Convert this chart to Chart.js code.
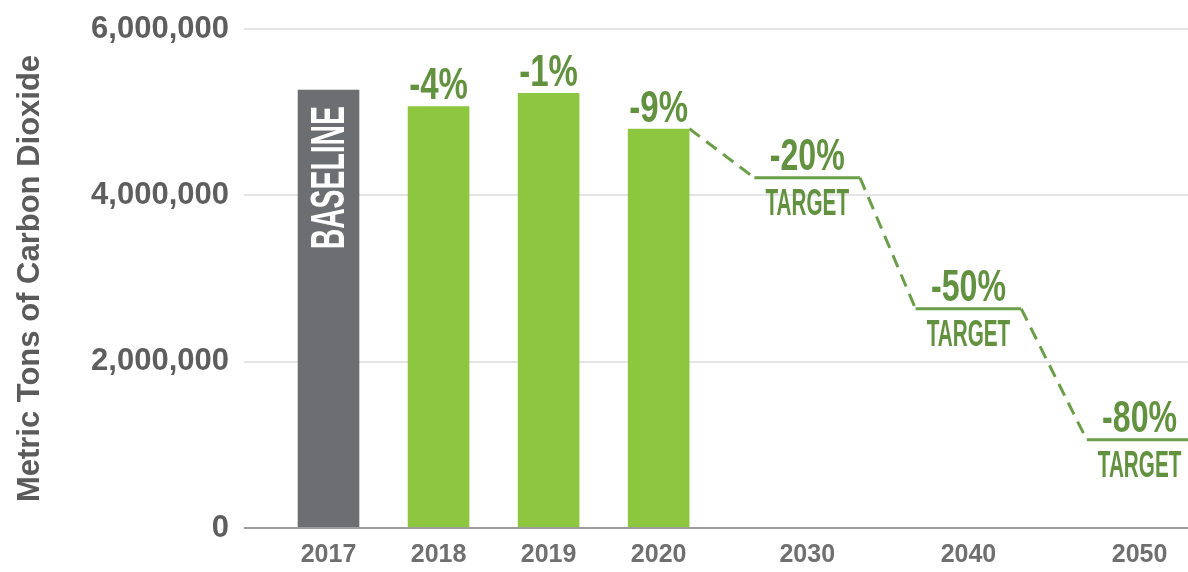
<!DOCTYPE html>
<html>
<head>
<meta charset="utf-8">
<script src="https://cdn.jsdelivr.net/npm/chart.js@4.4.1/dist/chart.umd.min.js"></script>
<style>
  html, body { margin: 0; padding: 0; background: #fff; }
  #wrap { width: 1188px; height: 572px; }
</style>
</head>
<body>
<div id="wrap"><canvas id="chart"></canvas></div>
<script>
// ---------- DATA ----------
const years = ['2017', '2018', '2019', '2020', '2030', '2040', '2050'];
const actualTons = [5270000, 5070000, 5230000, 4800000];
const targetTons = [4210000, 2635000, 1060000];
const actualNotes = ['BASELINE', '-4%', '-1%', '-9%'];
const targetNotes = ['-20%', '-50%', '-80%'];
const targetWord = 'TARGET';
const yTickValues = [0, 2000000, 4000000, 6000000];
const yTitle = 'Metric Tons of Carbon Dioxide';

// ---------- LAYOUT ----------
// the years are not evenly spaced in the original, so each gets a slot on a linear axis
const xSlots = [0, 1, 2, 3, 4.35, 5.815, 7.37];
const barShare = 0.56;   // bar width, share of one slot
const stepHalf = 0.48;   // half length of a target step, in slots

const FONT = "'Liberation Sans', Arial, sans-serif";
const GREY = '#6d6e71';
const GREEN = '#8dc63f';
const DARK_GREEN = '#62923f';

// dashed path: top right corner of the 2020 bar, then a flat step per target
const targetPath = [{ x: xSlots[3] + barShare / 2, y: actualTons[3] }];
targetTons.forEach((v, i) => {
  const c = xSlots[4 + i];
  targetPath.push({ x: c - stepHalf, y: v }, { x: c + stepHalf, y: v });
});

// tall narrow lettering like the original, made by squeezing the text sideways
function drawSqueezed(ctx, text, x, y, size, squeeze, color, angle) {
  ctx.save();
  ctx.translate(x, y);
  if (angle) ctx.rotate(angle);
  ctx.scale(squeeze, 1);
  ctx.font = 'bold ' + size + 'px ' + FONT;
  ctx.fillStyle = color;
  ctx.textAlign = 'center';
  ctx.textBaseline = 'alphabetic';
  ctx.fillText(text, 0, 0);
  ctx.restore();
}

const noteLabels = {
  id: 'noteLabels',
  afterDatasetsDraw(chart) {
    const ctx = chart.ctx;
    const xs = chart.scales.x, ys = chart.scales.y;
    chart.getDatasetMeta(0).data.forEach((bar, i) => {
      if (i === 0) {
        drawSqueezed(ctx, actualNotes[0], bar.x + 15, bar.y + 88, 48, 0.59, '#ffffff', -Math.PI / 2);
      } else {
        drawSqueezed(ctx, actualNotes[i], bar.x, bar.y - 7, 44, 0.75, DARK_GREEN);
      }
    });
    targetTons.forEach((v, i) => {
      const px = xs.getPixelForValue(xSlots[4 + i]);
      const py = ys.getPixelForValue(v);
      drawSqueezed(ctx, targetNotes[i], px, py - 8, 44, 0.73, DARK_GREEN);
      drawSqueezed(ctx, targetWord, px, py + 37, 37, 0.56, DARK_GREEN);
    });
  }
};

new Chart(document.getElementById('chart'), {
  type: 'bar',
  data: {
    datasets: [
      {
        type: 'bar',
        data: actualTons.map((v, i) => ({ x: xSlots[i], y: v })),
        backgroundColor: actualTons.map((v, i) => i === 0 ? GREY : GREEN),
        borderWidth: 0,
        barPercentage: barShare,
        categoryPercentage: 1
      },
      {
        type: 'line',
        data: targetPath,
        borderColor: '#6b9e48',
        borderWidth: 3,
        pointRadius: 0,
        tension: 0,
        fill: false,
        segment: {
          borderDash: c => c.p0.parsed.y === c.p1.parsed.y ? [] : [13, 8]
        }
      }
    ]
  },
  options: {
    responsive: true,
    maintainAspectRatio: false,
    animation: false,
    devicePixelRatio: 1,
    layout: { padding: { top: 29, right: 0, bottom: 0, left: 0 } },
    plugins: {
      legend: { display: false },
      tooltip: { enabled: false }
    },
    scales: {
      x: {
        type: 'linear',
        offset: false,
        min: -0.768,
        max: 7.81,
        afterBuildTicks: s => { s.ticks = xSlots.map(v => ({ value: v })); },
        ticks: {
          callback: (v, i) => years[i],
          autoSkip: false,
          maxRotation: 0,
          padding: 12,
          color: '#6f6f6f',
          font: { family: FONT, size: 25, weight: 'bold' }
        },
        grid: { display: false, drawTicks: false },
        border: { display: false },
        afterFit: s => { s.height = 44; s.paddingLeft = 0; s.paddingRight = 0; }
      },
      y: {
        min: 0,
        max: 6000000,
        afterBuildTicks: s => { s.ticks = yTickValues.map(v => ({ value: v })); },
        ticks: {
          callback: v => v.toLocaleString('en-US'),
          padding: 15,
          color: '#5e5e5e',
          font: { family: FONT, size: 31, weight: 'bold' }
        },
        grid: {
          color: c => c.tick.value === 0 ? '#9d9d9d' : '#e4e4e4',
          lineWidth: 2,
          drawTicks: false
        },
        border: { display: false },
        title: {
          display: true,
          text: yTitle,
          color: '#5b5b5b',
          padding: { top: 12, bottom: 0 },
          font: { family: FONT, size: 31, weight: 'bold' }
        },
        afterFit: s => { s.width = 244; s.paddingTop = 0; s.paddingBottom = 0; }
      }
    }
  },
  plugins: [noteLabels]
});
</script>
</body>
</html>
